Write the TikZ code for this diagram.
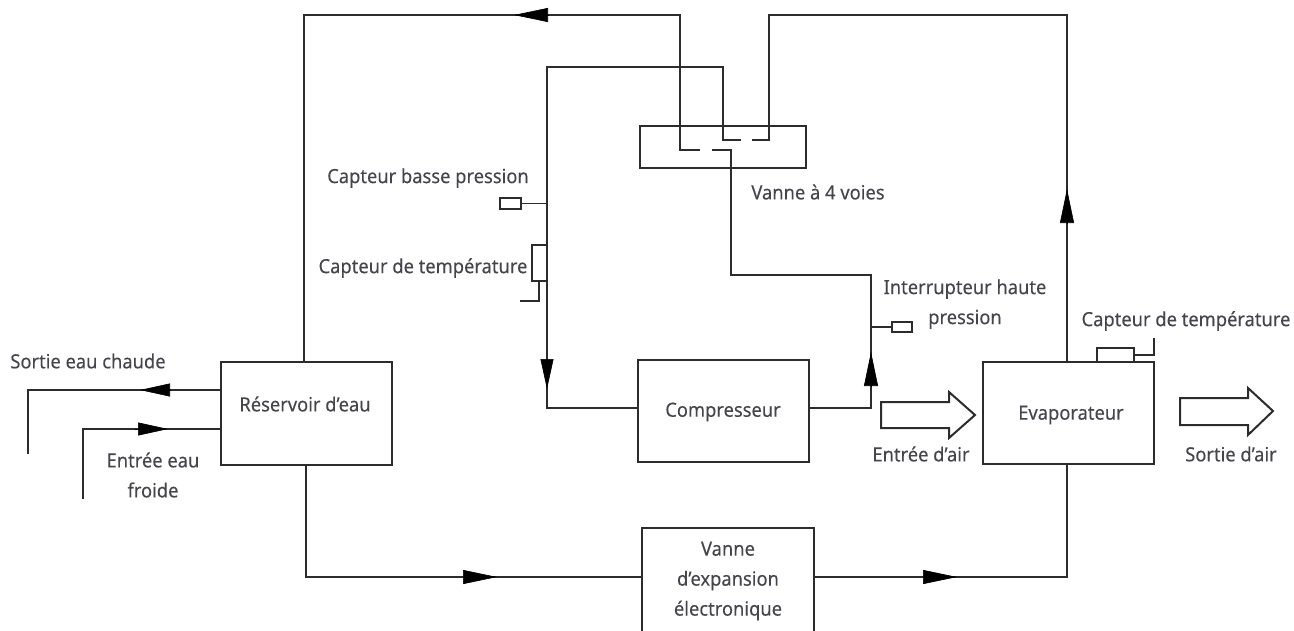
\documentclass[tikz,border=0pt]{standalone}
\usepackage{fontspec}
\setmainfont[FakeStretch=0.94,FakeBold=0.12]{Noto Sans}
\usetikzlibrary{arrows.meta,shapes.arrows}
\definecolor{ink}{HTML}{2C2C2C}
\definecolor{txt}{HTML}{45454D}
\tikzset{
  x=1pt,y=-1pt,
  every node/.style={font=\fontsize{19.5}{30}\selectfont,text=txt,inner sep=0pt,outer sep=0pt},
  line/.style={draw=ink,line width=2pt,line join=miter},
  thin line/.style={draw=ink,line width=1.5pt},
  box/.style={line,anchor=north west,align=center},
  tipped/.style={draw=black,line width=0.6pt,-{Triangle[length=34pt,width=14pt,fill=black]}},
  tipped short/.style={draw=black,line width=0.6pt,-{Triangle[length=30pt,width=13pt,fill=black]}},
  lab/.style={align=center},
  sensor/.style={draw=ink,line width=1.5pt,fill=white,anchor=north west}
}
\begin{document}
\begin{tikzpicture}
\useasboundingbox (0,0) rectangle (1294,630);
% main boxes
\node[box,minimum width=171pt,minimum height=103pt] (res) at (221,362) {};
\node[lab] (rest) at (305,404) {Réservoir d’eau};
\node[box,minimum width=171pt,minimum height=102pt] (comp) at (638,360) {};
\node[lab] (compt) at (723,412) {Compresseur};
\node[box,minimum width=171pt,minimum height=102pt] (evap) at (983,362) {};
\node[lab] (evapt) at (1071,415) {Evaporateur};
\node[box,minimum width=172pt,minimum height=112pt] (exp) at (642,528) {};
\node[lab] (expt) at (728,581) {Vanne\\d’expansion\\électronique};
\node[box,minimum width=166pt,minimum height=42pt] (valve) at (640,126) {};
% waypoints
\coordinate (tl) at (304,15);
\coordinate (a1) at (680,15);
\coordinate (a2) at (680,150);
\coordinate (a3) at (700,150);
\coordinate (a4) at (712,150);
\coordinate (a5) at (731,150);
\coordinate (a6) at (731,275);
\coordinate (a7) at (871,275);
\coordinate (a8) at (871,408);
\coordinate (b1) at (547,67);
\coordinate (b2) at (723,67);
\coordinate (b3) at (723,140);
\coordinate (b4) at (741,140);
\coordinate (b5) at (752,140);
\coordinate (b6) at (769,140);
\coordinate (b7) at (769,15);
\coordinate (b8) at (1067,15);
\coordinate (c1) at (547,408);
\coordinate (d1) at (1067,577);
\coordinate (e1) at (306,577);
\coordinate (hot1) at (28,390);
\coordinate (hot2) at (28,454);
\coordinate (cold1) at (83,429);
\coordinate (cold2) at (83,499);
% refrigerant lines
\draw[line] (304,362) -- (tl) -- (a1) -- (a2) -- (a3);
\draw[line] (a4) -- (a5) -- (a6) -- (a7) -- (a8) -- (809,408);
\draw[line] (638,408) -- (c1) -- (b1) -- (b2) -- (b3) -- (b4);
\draw[line] (b5) -- (b6) -- (b7) -- (b8) -- (1067,362);
\draw[line] (1067,464) -- (d1) -- (814,577);
\draw[line] (642,577) -- (e1) -- (306,465);
\draw[line] (221,390) -- (hot1) -- (hot2);
\draw[line] (221,429) -- (cold1) -- (cold2);
% arrowheads
\draw[tipped] (548,15) -- (514,15);
\draw[tipped short] (547,359) -- (547,389);
\draw[tipped] (871,386) -- (871,352);
\draw[tipped] (1067,223) -- (1067,189);
\draw[tipped] (463,577) -- (497,577);
\draw[tipped] (923,577) -- (957,577);
\draw[tipped short] (170,390) -- (140,390);
\draw[tipped short] (135,429) -- (168,429);
% sensors
\node[sensor,minimum width=21pt,minimum height=11pt] (s1) at (500,198) {};
\draw[thin line] (s1.east) -- (s1.east -| c1);
\node[sensor,minimum width=15pt,minimum height=36pt] (s2) at (532,245) {};
\draw[thin line] (539,281) -- (539,301) -- (520,301);
\node[sensor,minimum width=20pt,minimum height=10pt] (s3) at (892,322) {};
\draw[thin line] (s3.west -| a8) -- (s3.west);
\node[sensor,minimum width=37pt,minimum height=14pt] (s4) at (1097,348) {};
\draw[thin line] (s4.east) -- (s4.east -| evap.east) -- (1154,338);
% block arrows
\draw[line,fill=white] (881,402) -- (949,402) -- (949,392) -- (975,415) -- (949,438) -- (949,428) -- (881,428) -- cycle;
\draw[line,fill=white] (1180,398) -- (1248,398) -- (1248,388) -- (1273,411) -- (1248,435) -- (1248,425) -- (1180,425) -- cycle;
% labels
\node[lab] (t1) at (428,178) {Capteur basse pression};
\node[lab] (t2) at (423,268) {Capteur de température};
\node[lab] (t3) at (818,192) {Vanne à 4 voies};
\node[lab] (t4) at (965,304) {Interrupteur haute\\pression};
\node[lab] (t5) at (1186,321) {Capteur de température};
\node[lab] (t6) at (921,454) {Entrée d’air};
\node[lab] (t7) at (1231,454) {Sortie d’air};
\node[lab] (t8) at (88,361) {Sortie eau chaude};
\node[lab] (t9) at (153,475) {Entrée eau\\froide};
\end{tikzpicture}
\end{document}
